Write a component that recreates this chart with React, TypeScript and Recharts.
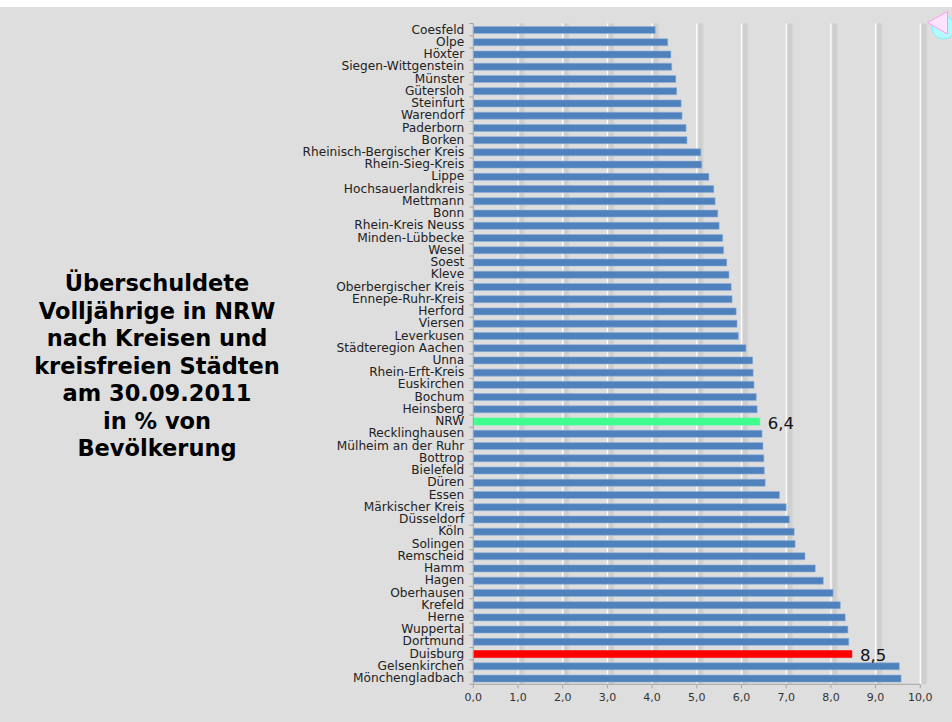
import React from 'react'
import { BarChart, Bar, Cell, XAxis, YAxis, CartesianGrid, LabelList } from 'recharts'

const categories = [
  'Coesfeld', 'Olpe', 'Höxter', 'Siegen-Wittgenstein', 'Münster', 'Gütersloh', 'Steinfurt', 'Warendorf', 'Paderborn',
  'Borken', 'Rheinisch-Bergischer Kreis', 'Rhein-Sieg-Kreis', 'Lippe', 'Hochsauerlandkreis', 'Mettmann', 'Bonn',
  'Rhein-Kreis Neuss', 'Minden-Lübbecke', 'Wesel', 'Soest', 'Kleve', 'Oberbergischer Kreis', 'Ennepe-Ruhr-Kreis',
  'Herford', 'Viersen', 'Leverkusen', 'Städteregion Aachen', 'Unna', 'Rhein-Erft-Kreis', 'Euskirchen', 'Bochum',
  'Heinsberg', 'NRW', 'Recklinghausen', 'Mülheim an der Ruhr', 'Bottrop', 'Bielefeld', 'Düren', 'Essen',
  'Märkischer Kreis', 'Düsseldorf', 'Köln', 'Solingen', 'Remscheid', 'Hamm', 'Hagen', 'Oberhausen', 'Krefeld', 'Herne',
  'Wuppertal', 'Dortmund', 'Duisburg', 'Gelsenkirchen', 'Mönchengladbach',
]

const values = [
  4.07, 4.35, 4.42, 4.44, 4.53, 4.55, 4.65, 4.67, 4.76,
  4.78, 5.09, 5.11, 5.27, 5.38, 5.41, 5.47,
  5.5, 5.58, 5.6, 5.67, 5.72, 5.77, 5.79,
  5.88, 5.9, 5.93, 6.1, 6.25, 6.26, 6.28, 6.33,
  6.35, 6.41, 6.46, 6.48, 6.5, 6.51, 6.53, 6.85,
  7.0, 7.07, 7.18, 7.2, 7.42, 7.65, 7.83, 8.05, 8.21, 8.32,
  8.38, 8.4, 8.47, 9.53, 9.57,
]

const xTicks = [0, 1, 2, 3, 4, 5, 6, 7, 8, 9, 10]
const titleLines = [
  'Überschuldete',
  'Volljährige in NRW',
  'nach Kreisen und',
  'kreisfreien Städten',
  'am 30.09.2011',
  'in % von',
  'Bevölkerung',
]
const highlights: Record<string, string> = { NRW: '#3fff8f', Duisburg: '#ff0000' }

const data = categories.map((name, i) => ({ name, value: values[i] }))

const FONT = '"DejaVu Sans", Verdana, sans-serif'
const BAND = 12.24

const comma = (v: number) => v.toFixed(1).replace('.', ',')

const CategoryTick = (props: any) => {
  const { x, y, payload, index } = props
  const axisX = x + 8
  return (
    <g>
      <text x={x - 1} y={y + 4} textAnchor="end" fontSize={12.2} fontFamily={FONT} fill="#222">
        {payload.value}
      </text>
      <line x1={axisX - 4} x2={axisX} y1={y - BAND / 2} y2={y - BAND / 2} stroke="#a6a6a6" />
      {index === categories.length - 1 && (
        <line x1={axisX - 4} x2={axisX} y1={y + BAND / 2} y2={y + BAND / 2} stroke="#a6a6a6" />
      )}
    </g>
  )
}

// white line with the soft grey shadow next to it
const GridLine = (props: any) => {
  const { x1, y1, y2, index } = props
  if (x1 < 480) return <g key={index} />
  return (
    <g key={index}>
      <rect x={x1 + 1} y={y1} width={6} height={y2 - y1} fill="#d6d6d6" />
      <rect x={x1 + 2} y={y1} width={3.5} height={y2 - y1} fill="#cecece" />
      <line x1={x1} x2={x1} y1={y1} y2={y2} stroke="#ffffff" strokeWidth={1.2} />
    </g>
  )
}

const ValueLabel = (props: any) => {
  const { x, y, width, height, index } = props
  const name = categories[index]
  if (!highlights[name]) return null
  return (
    <text x={x + width + 8} y={y + height / 2 + 7} fontSize={16.5} fontFamily={FONT} fill="#111">
      {comma(values[index])}
    </text>
  )
}

export default function App() {
  return (
    <div style={{ position: 'absolute', left: 0, top: 0, width: 952, height: 722, background: '#fff', overflow: 'hidden' }}>
      <div style={{ position: 'absolute', left: 0, top: 7, width: 952, height: 715, background: '#dedede' }} />
      <div style={{ position: 'absolute', left: 0, top: 0 }}>
        <BarChart
          width={952}
          height={722}
          data={data}
          layout="vertical"
          margin={{ top: 23.5, right: 31.7, bottom: 0, left: 0 }}
          barCategoryGap={0}
        >
          <CartesianGrid horizontal={false} vertical={GridLine as any} />
          <XAxis
            type="number"
            domain={[0, 10]}
            ticks={xTicks}
            tickFormatter={comma}
            interval={0}
            height={37.7}
            tick={{ fontSize: 11, fontFamily: FONT, fill: '#333' }}
            tickSize={4}
            tickMargin={5}
            stroke="#a6a6a6"
          />
          <YAxis
            type="category"
            dataKey="name"
            width={473.3}
            interval={0}
            tick={CategoryTick}
            tickLine={false}
            stroke="#a6a6a6"
          />
          <Bar dataKey="value" barSize={7} fill="#4f81bd" stroke="#8fb0d6" strokeWidth={0.6} isAnimationActive={false}>
            {categories.map((name) => (
              <Cell
                key={name}
                fill={highlights[name] ?? '#4f81bd'}
                stroke={highlights[name] ?? '#8fb0d6'}
              />
            ))}
            <LabelList dataKey="value" content={ValueLabel} />
          </Bar>
        </BarChart>
      </div>
      <div
        style={{
          position: 'absolute',
          left: 7,
          top: 270,
          width: 300,
          textAlign: 'center',
          fontFamily: FONT,
          fontWeight: 'bold',
          fontSize: 22.5,
          lineHeight: '27.5px',
          color: '#000',
        }}
      >
        {titleLines.map((line) => (
          <div key={line}>{line}</div>
        ))}
      </div>
      <svg width={30} height={34} style={{ position: 'absolute', left: 922, top: 8 }}>
        <circle cx={21.5} cy={19.5} r={11.5} fill="#b4f9ff" stroke="#7ff0fb" />
        <polygon points="5.5,14.5 25.5,3.5 25.5,26" fill="#fde3fb" stroke="#fb9bf0" />
      </svg>
    </div>
  )
}
